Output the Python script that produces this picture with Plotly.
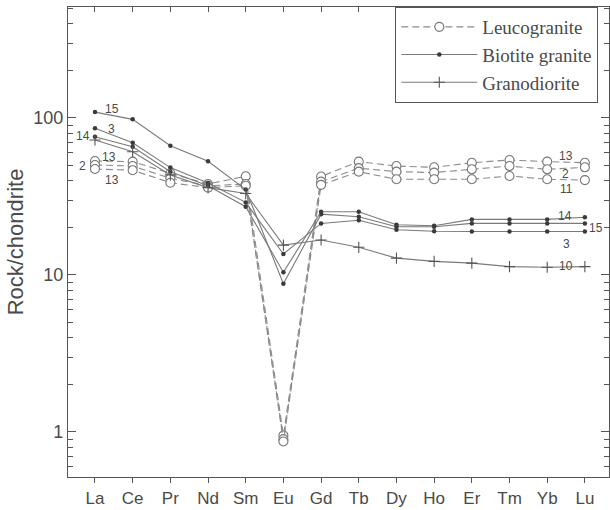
import plotly.graph_objects as go

elements = ['La', 'Ce', 'Pr', 'Nd', 'Sm', 'Eu', 'Gd', 'Tb', 'Dy', 'Ho', 'Er', 'Tm', 'Yb', 'Lu']

# Leucogranite samples
leuco_13 = [53.2, 52.7, 44.4, 38.0, 42.5, 0.95, 42.4, 52.7, 49.4, 48.5, 51.9, 54.0, 52.7, 51.9]
leuco_2 = [50.2, 49.4, 41.3, 37.0, 38.0, 0.90, 39.3, 47.9, 45.5, 44.9, 47.1, 49.4, 47.1, 48.5]
leuco_11 = [47.3, 46.5, 38.7, 36.0, 37.0, 0.87, 37.5, 45.5, 40.7, 40.7, 40.7, 42.7, 40.7, 40.2]

# Biotite granite samples
bio_15 = [109, 98, 66.5, 53, 35, 8.8, 24.4, 23.5, 20.3, 20.3, 21.3, 21.3, 21.3, 21.3]
bio_3 = [86, 69.6, 48.3, 38.5, 29, 13.6, 21.3, 22.3, 19.4, 19.0, 18.9, 18.9, 18.9, 18.9]
bio_14 = [76, 65.5, 45.5, 37, 27.2, 10.4, 25.3, 25.3, 20.9, 20.6, 22.6, 22.6, 22.6, 23.3]

# Granodiorite sample
grano_10 = [72.4, 61, 43.3, 36, 33, 15.5, 16.7, 15.0, 12.8, 12.2, 11.9, 11.3, 11.2, 11.3]

LINE = '#7a7a7a'
DARK = '#3a3a3a'
TXT = '#4a4a4a'
AX = '#555555'

fig = go.Figure()

leucos = [leuco_13, leuco_2, leuco_11]
for i, v in enumerate(leucos):
    fig.add_trace(go.Scatter(
        x=elements, y=v, mode='lines+markers', name='Leucogranite',
        legendgroup='leuco', showlegend=(i == 0),
        line=dict(color='#8c8c8c', width=1.1, dash='7px,4px'),
        marker=dict(symbol='circle', size=9, color='white',
                    line=dict(color='#777777', width=1.1))))

bios = [bio_15, bio_3, bio_14]
for i, v in enumerate(bios):
    fig.add_trace(go.Scatter(
        x=elements, y=v, mode='lines+markers', name='Biotite granite',
        legendgroup='bio', showlegend=(i == 0),
        line=dict(color=LINE, width=1.1),
        marker=dict(symbol='circle', size=4.5, color=DARK)))

fig.add_trace(go.Scatter(
    x=elements, y=grano_10, mode='lines+markers', name='Granodiorite',
    legendgroup='grano', showlegend=True,
    line=dict(color=LINE, width=1.1),
    marker=dict(symbol='cross-thin', size=8, color=DARK,
                line=dict(color='#555555', width=1.1))))

# top axis carrier (invisible)
fig.add_trace(go.Scatter(x=elements, y=[None] * len(elements), xaxis='x2',
                         showlegend=False, hoverinfo='skip', mode='lines'))

xr = [-0.716, 13.64]

labels = [
    # (text, x-index, log10 y)
    ('15', 0.44, 2.055), ('3', 0.44, 1.928), ('14', -0.31, 1.888),
    ('13', 0.38, 1.754), ('2', -0.33, 1.696), ('13', 0.44, 1.606),
    ('13', 12.5, 1.758), ('2', 12.49, 1.641), ('11', 12.5, 1.546),
    ('14', 12.47, 1.374), ('15', 13.3, 1.299), ('3', 12.52, 1.197),
    ('10', 12.49, 1.060),
]
for t, xi, ly in labels:
    fig.add_annotation(x=xi, y=ly, xref='x', yref='y', text=t, showarrow=False,
                       font=dict(family='Liberation Sans', size=12, color=TXT))

fig.update_layout(
    width=610, height=510,
    margin=dict(l=68, r=1, t=7, b=33),
    plot_bgcolor='white', paper_bgcolor='white',
    showlegend=True,
    legend=dict(x=0.605, y=1.0, xanchor='left', yanchor='top',
                bordercolor=AX, borderwidth=1, bgcolor='white',
                font=dict(family='Liberation Serif', size=19, color=TXT),
                itemwidth=76, tracegroupgap=0),
    xaxis=dict(type='category', range=xr, showline=True, linecolor=AX, linewidth=1.2,
               ticks='outside', ticklen=5, tickcolor=AX,
               tickfont=dict(family='Liberation Sans', size=17, color=TXT),
               showgrid=False, zeroline=False),
    xaxis2=dict(type='category', range=xr, overlaying='x', side='top', anchor='y',
                showline=True, linecolor=AX, linewidth=1.2,
                ticks='inside', ticklen=5, tickcolor=AX,
                showticklabels=False, showgrid=False, zeroline=False),
    yaxis=dict(type='log', range=[-0.287, 2.707], showline=True, linecolor=AX,
               linewidth=1.2, mirror='ticks', ticks='inside', ticklen=8, tickcolor=AX,
               tickvals=[1, 10, 100], ticktext=['1', '10', '100'],
               tickfont=dict(family='Liberation Sans', size=18, color=TXT),
               minor=dict(ticks='inside', ticklen=5, tickcolor=AX, dtick='D1', showgrid=False),
               showgrid=False, zeroline=False,
               title=dict(text='Rock/chondrite', font=dict(family='Liberation Sans', size=22, color=TXT),
                          standoff=3)),
)

fig.write_html('out.html')
